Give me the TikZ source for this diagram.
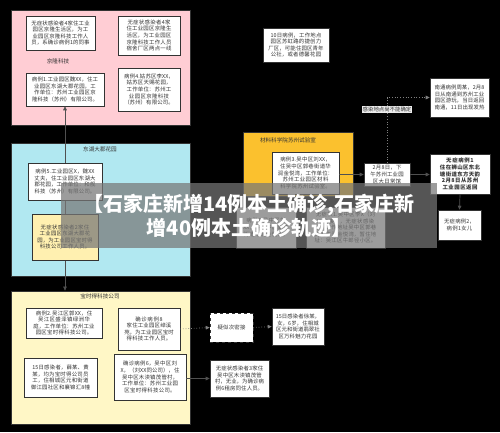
\documentclass[tikz,border=0pt]{standalone}
\usepackage{fontspec}
\setmainfont{Noto Sans CJK SC}
\usetikzlibrary{arrows.meta}
\XeTeXlinebreaklocale "zh"
\XeTeXlinebreakskip = 0pt plus 0.5pt
\definecolor{bordc}{HTML}{333333}
\definecolor{txtc}{HTML}{333333}
\definecolor{linec}{HTML}{505050}
\definecolor{dotc}{HTML}{808080}
\definecolor{pinkc}{HTML}{FFCDD4}
\definecolor{cyanc}{HTML}{B1E8F1}
\definecolor{yelc}{HTML}{FFF7C6}
\definecolor{yelbox}{HTML}{FFF0B0}
\definecolor{orc}{HTML}{FBC12E}
\definecolor{bannerc}{HTML}{777777}
\tikzset{
  box/.style={draw=bordc, fill=white, line width=0.6pt, text=txtc,
    font=\fontsize{5.4}{6.6}\selectfont, align=center, inner sep=1pt},
  container/.style={draw=bordc, line width=0.8pt, inner sep=0pt},
  lbl/.style={text=txtc, font=\fontsize{5.6}{6.6}\selectfont, inner sep=0pt},
  conn/.style={draw=linec, line width=0.7pt, -{Triangle[length=4pt,width=3.6pt]}},
  biconn/.style={draw=linec, line width=0.7pt, {Triangle[length=4pt,width=3.6pt]}-{Triangle[length=4pt,width=3.6pt]}},
  dotconn/.style={draw=dotc, line width=0.7pt, dotted, -{Triangle[length=4pt,width=3.6pt]}},
  tagbox/.style={fill=white!85!gray, text=txtc, font=\fontsize{5.4}{6}\selectfont, inner sep=0.8pt},
  titlefont/.style={text=white, font=\fontsize{20}{24}\selectfont\bfseries, align=center, inner sep=0pt},
}
\begin{document}
\begin{tikzpicture}[x=1pt,y=-1pt]
\fill[black] (0,0) rectangle (500,432);
\useasboundingbox (0,0) rectangle (500,432);

% ---------- pink container ----------
\node[container, fill=pinkc, minimum width=179pt, minimum height=115pt] (P) at (100.5,67.5) {};
\node[lbl] (Plbl) at (58,61) {京隆科技};
\node[box, minimum width=69pt, minimum height=34pt, text width=64pt] (A1) at (60.5,33)
  {无症状感染者4家住工业园区京隆生活区，为工业园区京隆科技工作人员，系确诊病例1的同事};
\node[box, minimum width=62pt, minimum height=39pt, text width=56pt] (A2) at (149,35.5)
  {无症状感染者4家住工业园区京隆生活区，为工业园区京隆科技工作人员\\宿舍厂区两点一线};
\node[box, minimum width=78pt, minimum height=33pt, text width=72pt] (A3) at (65,89.5)
  {病例1.工业园区魏XX，住工业园区东湖大郡花园，工作单位：苏州工业园区京隆科技（苏州）有限公司。};
\node[box, minimum width=62pt, minimum height=43pt, text width=56pt] (A4) at (149,89.5)
  {病例4.姑苏区李XX，姑苏区天赐花园，工作单位：苏州工业园区京隆科技（苏州）有限公司。};

% ---------- cyan container ----------
\node[container, fill=cyanc, minimum width=179pt, minimum height=133pt] (C) at (100.5,209.5) {};
\node[lbl] (Clbl) at (100,149) {东湖大郡花园};

% ---------- yellow container ----------
\node[container, fill=yelc, minimum width=179pt, minimum height=133pt] (Y) at (100.5,357.5) {};
\node[lbl] (Ylbl) at (100,296) {宝时得科技公司};

% vertical connector through the cyan container
\draw[biconn] (A3.south) -- (A3.south |- Y.north);

\node[box, minimum width=74pt, minimum height=37pt, text width=69pt] (B1) at (65,181.5)
  {病例5.工业园区X，魏XX丈夫，住工业园区东湖大郡花园，工作单位：和舰科技（苏州）有限公司。};
\node[box, fill=yelbox, minimum width=66pt, minimum height=46pt, text width=61pt] (B2) at (65,237)
  {无症状感染者2家住工业园区东湖大郡花园，为工业园区宝时得科技公司工作人员。};

\node[box, minimum width=76pt, minimum height=30pt, text width=70pt] (C1) at (64,323)
  {病例2.吴江区郭XX，住吴江区盛泽镇绿洲华庭，工作单位：苏州工业园区宝时得科技公司。};
\node[box, minimum width=62pt, minimum height=42pt, text width=54pt] (C2) at (149,329)
  {确诊病例8\\家住工业园区绰溪苑，为工业园区宝时得科技工作人员。};
\node[box, minimum width=73pt, minimum height=39pt, text width=67pt] (C3) at (60.5,377.5)
  {15日感染者，薛某、黄某，均为宝时得公司员工，住相城区元和街道御江园社区和襄锦汇8幢};
\node[box, minimum width=72pt, minimum height=46pt, text width=66pt] (C4) at (150,377)
  {确诊病例6，吴中区刘X，（刘XX同公司），住吴中区木渎镇茂管村，工作单位：苏州工业园区宝时得科技公司。};

% ---------- right of yellow ----------
\node[box, dashed, minimum width=43pt, minimum height=29pt, text width=38pt] (D1) at (231.5,327.5)
  {疑似次密接};
\node[box, minimum width=52pt, minimum height=37pt, text width=47pt] (D2) at (298,326.5)
  {15日感染者徐某，女，6岁，住相城区元和街道翡翠社区万科魅力花园};
\node[box, minimum width=59pt, minimum height=37pt, text width=54pt] (D3) at (239.5,378.5)
  {无症状感染者3家住吴中区木渎镇茂管村，无业，为确诊病例6租房同住人员。};
\draw[dotconn] (C2.east) -- (D1.west);
\draw[dotconn] (D1.east) -- (D2.west);
\draw[conn] (C4.east |- D3.west) -- (D3.west);

% ---------- top right ----------
\node[box, minimum width=66pt, minimum height=34pt, text width=61pt] (H1) at (296,45)
  {10日病例，工作地点园区苏虹路的捷创力厂区，可能住园区青年公社，或者德馨花园};
\node[box, minimum width=59pt, minimum height=39pt, text width=54pt] (H2) at (459.5,97.5)
  {南通病例周某，2月8日从南通到苏州工业园区游玩，当日返回南通，11日出现发热};

% ---------- orange container ----------
\node[container, fill=orc, minimum width=110pt, minimum height=64pt] (O) at (298,164) {};
\node[lbl] (Olbl) at (288,140) {材料科学院苏州试验室};
\node[box, minimum width=67pt, minimum height=42pt, text width=62pt] (E1) at (305.5,173)
  {病例3.吴中区刘XX，住吴中区郭巷街道华润金悦湾，工作单位：苏州工业园区材料科学院苏州试验室。};
\node[box, minimum width=46pt, minimum height=23pt, text width=42pt] (E2) at (387,174.5)
  {2月8日，下午苏州工业园区大日常馆};
\node[box, font=\fontsize{5.4}{6.6}\selectfont\bfseries, minimum width=60pt, minimum height=40pt, text width=56pt] (F1) at (460,174)
  {无症病例1\\住在狮山区东北塘街道东方天韵\\2月8日从苏州工业园区返回};
\node[box, minimum width=43pt, minimum height=30pt, text width=38pt] (F2) at (459.5,225)
  {无症病例2，病例1女儿};
\node[box, minimum width=60pt, minimum height=41pt, text width=55pt] (G1) at (266,227.5)
  {病例7.吴中区刘XX，住吴中区郭巷街道华润金悦湾。};
\node[box, minimum width=79pt, minimum height=41pt, text width=73pt] (G2) at (345.5,227.5)
  {无症状1.吴中区李X（刘XX之妻），无症状感染者，工作地址吴中区郭巷街道华润金悦湾，暂住地址：吴江区牛郎径小区。};

\draw[conn] (E1.east |- E2.west) -- (E2.west);
\draw[conn] (E2.east) -- (F1.west |- E2.east);
\draw[conn] (F1.south) -- (F2.north);
\draw[dotconn] (E2.north) |- (H2.west)
  node[tagbox, pos=0.41] (tag) {感染地点尚不能确定};

% ---------- banner ----------
\fill[bannerc, fill opacity=0.72] (61,183) rectangle (437,248);
\node[titlefont] (T) at (249,215.5) {【石家庄新增14例本土确诊,石家庄新\\增40例本土确诊轨迹】};
\end{tikzpicture}
\end{document}
